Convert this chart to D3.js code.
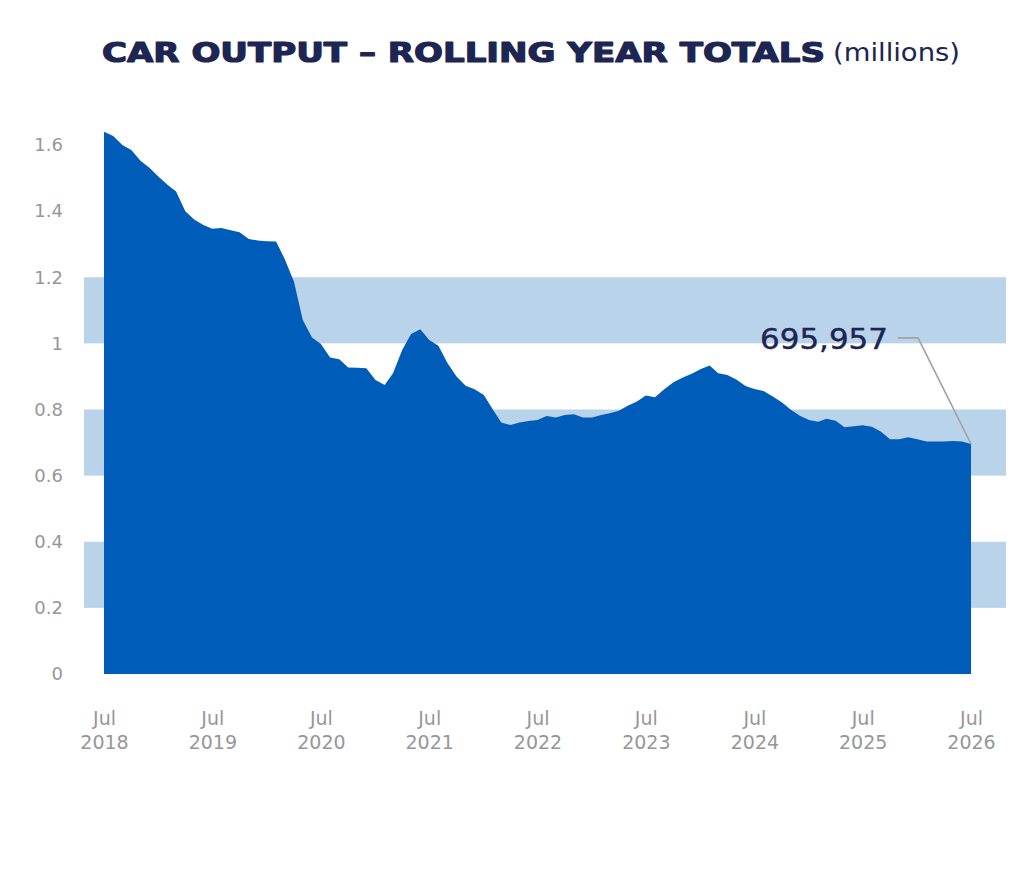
<!DOCTYPE html>
<html><head><meta charset="utf-8">
<script src="https://cdn.jsdelivr.net/npm/d3@7"></script>
<style>body{margin:0;background:#fff;} svg{display:block}</style>
</head><body>
<svg id="chart" width="1024" height="875"></svg>
<script>
// ---- data ----
const startYear = 2018, startMonthIndex = 6; // July 2018
const values = [
  1.640, 1.627, 1.600, 1.585, 1.552, 1.531, 1.504, 1.479, 1.459, 1.400,
  1.375, 1.358, 1.347, 1.349, 1.342, 1.336, 1.316, 1.311, 1.309, 1.308,
  1.255, 1.187, 1.071, 1.018, 0.998, 0.957, 0.952, 0.927, 0.926, 0.925,
  0.889, 0.874, 0.910, 0.980, 1.028, 1.043, 1.010, 0.993, 0.940, 0.900,
  0.872, 0.861, 0.844, 0.799, 0.761, 0.753, 0.761, 0.765, 0.768, 0.780,
  0.776, 0.783, 0.786, 0.776, 0.776, 0.783, 0.789, 0.796, 0.811, 0.824,
  0.842, 0.837, 0.861, 0.882, 0.896, 0.907, 0.922, 0.933, 0.910, 0.904,
  0.891, 0.871, 0.862, 0.856, 0.839, 0.822, 0.799, 0.781, 0.768, 0.763,
  0.772, 0.766, 0.746, 0.749, 0.752, 0.748, 0.733, 0.710, 0.710, 0.716,
  0.710, 0.703, 0.703, 0.703, 0.705, 0.703, 0.696
];
const yTickValues = [0, 0.2, 0.4, 0.6, 0.8, 1.0, 1.2, 1.4, 1.6];
const yTickLabels = ["0", "0.2", "0.4", "0.6", "0.8", "1", "1.2", "1.4", "1.6"];
const xTickYears = [2018, 2019, 2020, 2021, 2022, 2023, 2024, 2025, 2026];
const xTickMonthLabel = "Jul";
const bands = [[0.2, 0.4], [0.6, 0.8], [1.0, 1.2]];
const annotationText = "695,957";
const titleMain = "CAR OUTPUT \u2013 ROLLING YEAR TOTALS";
const titleUnit = "(millions)";

// ---- build ----
const data = values.map((v, i) => ({ date: new Date(startYear, startMonthIndex + i, 1), v }));
const svg = d3.select("#chart");
const navy = "#1d2553", blue = "#005cb9", band = "#b9d3eb", grey = "#96969a";

const x = d3.scaleTime().domain(d3.extent(data, d => d.date)).range([104, 971]);
const y = d3.scaleLinear().domain([0, 1.6]).range([674, 145]);

// bands
svg.append("g").selectAll("rect").data(bands).join("rect")
  .attr("x", 84).attr("width", 922)
  .attr("y", d => y(d[1])).attr("height", d => y(d[0]) - y(d[1]))
  .attr("fill", band);

// area
const area = d3.area().x(d => x(d.date)).y0(y(0)).y1(d => y(d.v));
svg.append("path").datum(data).attr("d", area).attr("fill", blue);

// y axis
const yAxis = svg.append("g").attr("transform", "translate(63,0)")
  .call(d3.axisLeft(y).tickValues(yTickValues).tickFormat((d, i) => yTickLabels[i]).tickSize(0).tickPadding(0));
yAxis.select(".domain").remove();
yAxis.selectAll("text").attr("font-family", "DejaVu Sans").attr("font-size", 18).attr("fill", grey);

// x axis
const xTickDates = xTickYears.map(yr => new Date(yr, 6, 1));
const xAxis = svg.append("g").attr("transform", "translate(0,700)")
  .call(d3.axisBottom(x).tickValues(xTickDates).tickSize(0).tickFormat(""));
xAxis.select(".domain").remove();
xAxis.selectAll(".tick text").remove();
xAxis.selectAll(".tick").each(function (d, i) {
  const g = d3.select(this);
  g.append("text").attr("y", 25).text(xTickMonthLabel);
  g.append("text").attr("y", 49).text(xTickYears[i]);
});
xAxis.selectAll(".tick text").attr("text-anchor", "middle").attr("font-family", "DejaVu Sans")
  .attr("font-size", 19).attr("fill", grey);

// annotation
const last = data[data.length - 1];
const lx = x(last.date), ly = y(last.v);
svg.append("path")
  .attr("d", d3.line()([[lx - 73, ly - 106], [lx - 53, ly - 106], [lx, ly]]))
  .attr("fill", "none").attr("stroke", "#a2a2a2").attr("stroke-width", 1.6);
svg.append("text").attr("x", lx - 83).attr("y", ly - 95).attr("text-anchor", "end")
  .attr("font-family", "DejaVu Sans").attr("font-size", 28).attr("fill", navy)
  .attr("stroke", navy).attr("stroke-width", 0.4)
  .attr("textLength", 128).attr("lengthAdjust", "spacingAndGlyphs")
  .text(annotationText);

// title
svg.append("text").attr("x", 102).attr("y", 62)
  .attr("font-family", "DejaVu Sans").attr("font-weight", "bold").attr("font-size", 27)
  .attr("fill", navy).attr("stroke", navy).attr("stroke-width", 1.2).attr("stroke-linejoin", "round")
  .attr("textLength", 723).attr("lengthAdjust", "spacingAndGlyphs")
  .text(titleMain);
svg.append("text").attr("x", 833).attr("y", 61)
  .attr("font-family", "DejaVu Sans").attr("font-size", 25)
  .attr("fill", navy).attr("textLength", 127).attr("lengthAdjust", "spacingAndGlyphs")
  .text(titleUnit);
</script>
</body></html>
